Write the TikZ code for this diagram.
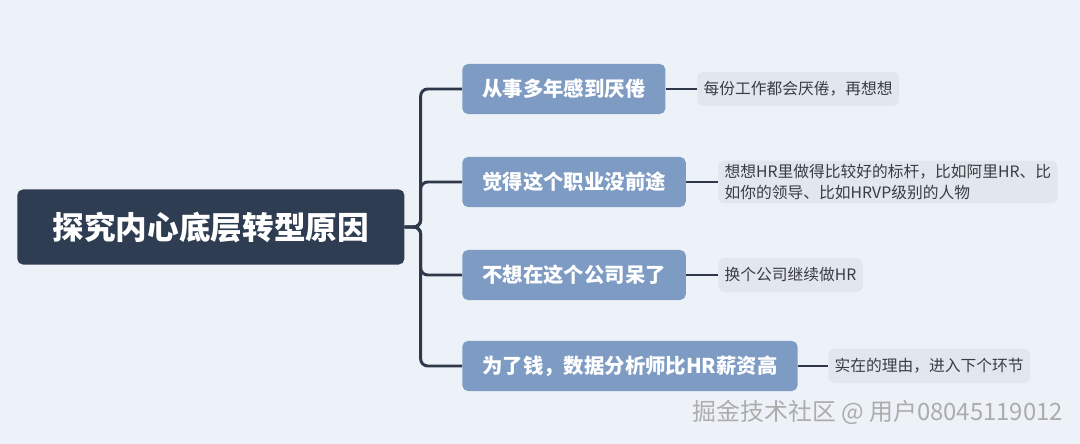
\documentclass[tikz,border=0pt]{standalone}
\usepackage{fontspec}
\setmainfont{Noto Sans CJK SC}
\usetikzlibrary{positioning}
\definecolor{bgFill}{RGB}{237,242,248}
\definecolor{rootFill}{RGB}{47,61,82}
\definecolor{branchFill}{RGB}{126,155,196}
\definecolor{leafFill}{RGB}{226,231,238}
\definecolor{leafText}{RGB}{58,60,66}
\definecolor{lineCol}{RGB}{46,56,74}
\begin{document}
\begin{tikzpicture}[
  x=0.025cm, y=-0.025cm,
  root/.style={fill=rootFill, text=white, rounded corners=4pt, font=\fontsize{22.5}{26}\selectfont\bfseries,
    minimum width=9.675cm, minimum height=1.875cm, anchor=west, inner sep=0pt},
  branch/.style={fill=branchFill, text=white, rounded corners=4pt, font=\fontsize{14.5}{17}\selectfont\bfseries,
    minimum height=1.25cm, inner xsep=0.5cm, inner ysep=0pt, anchor=west},
  leaf/.style={fill=leafFill, text=leafText, rounded corners=4pt, font=\fontsize{11.2}{15.5}\selectfont,
    minimum height=0.85cm, inner xsep=0.16cm, inner ysep=0.08cm, anchor=west, align=left},
  trunk/.style={draw=lineCol, line width=2.1pt, rounded corners=5pt},
  twig/.style={draw=lineCol, line width=1.4pt},
  watermark/.style={font=\fontsize{17}{20}\selectfont, text=gray!65, anchor=east}
]

% background / page size
\fill[bgFill] (0,0) rectangle (1080,444);
\useasboundingbox (0,0) rectangle (1080,444);

% centre topic
\node[root] (root) at (17,227) {探究内心底层转型原因};

% main branches
\node[branch] (b1) at (462,89)  {从事多年感到厌倦};
\node[branch] (b2) at (462,182) {觉得这个职业没前途};
\node[branch] (b3) at (462,275) {不想在这个公司呆了};
\node[branch] (b4) at (462,366) {为了钱，数据分析师比HR薪资高};

\foreach \b in {b1,b2,b3,b4}
  \draw[trunk] (root.east) -- ++(16,0) |- (\b.west);

% notes
\node[leaf] (l1) at (697,89)  {每份工作都会厌倦，再想想};
\node[leaf] (l2) at (718,182) {想想HR里做得比较好的标杆，比如阿里HR、比\\如你的领导、比如HRVP级别的人物};
\node[leaf] (l3) at (718,275) {换个公司继续做HR};
\node[leaf] (l4) at (828,366) {实在的理由，进入下个环节};

\draw[twig] (b1) -- (l1);
\draw[twig] (b2) -- (l2);
\draw[twig] (b3) -- (l3);
\draw[twig] (b4) -- (l4);

% watermark
\node[watermark] (wm) at (1068,412) {掘金技术社区 @ 用户08045119012};

\end{tikzpicture}
\end{document}
